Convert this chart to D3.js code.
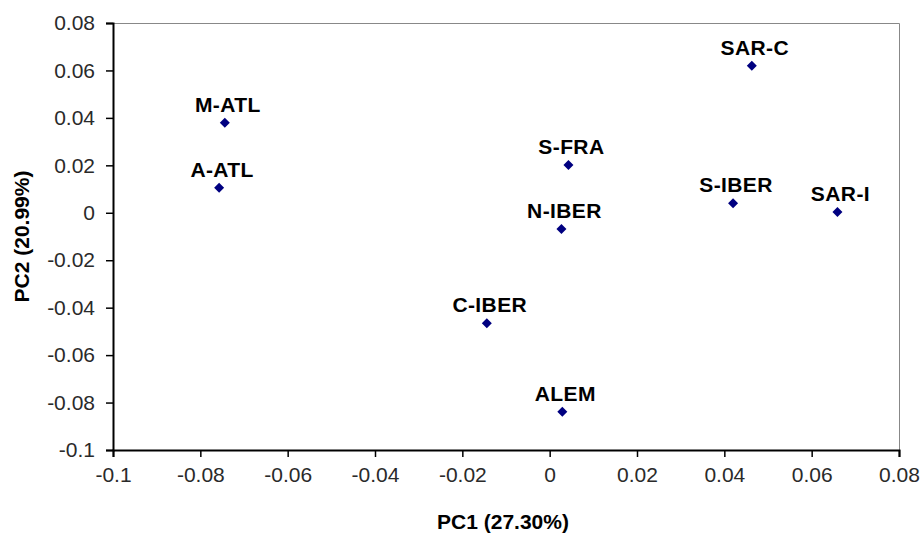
<!DOCTYPE html>
<html>
<head>
<meta charset="utf-8">
<script src="https://cdn.jsdelivr.net/npm/d3@7"></script>
<style>
  body { margin: 0; background: #fff; }
  text { font-family: "Liberation Sans", Arial, sans-serif; }
</style>
</head>
<body>
<div id="chart"></div>
<script>
const labels = ["M-ATL", "A-ATL", "S-FRA", "N-IBER", "SAR-C", "S-IBER", "SAR-I", "C-IBER", "ALEM"];
const pc1 = [-0.0744, -0.0757, 0.0043, 0.0027, 0.0463, 0.0420, 0.0659, -0.0144, 0.0029];
const pc2 = [0.0380, 0.0106, 0.0201, -0.0068, 0.0620, 0.0040, 0.0003, -0.0466, -0.0839];
const xTicks = [-0.1, -0.08, -0.06, -0.04, -0.02, 0, 0.02, 0.04, 0.06, 0.08];
const yTicks = [-0.1, -0.08, -0.06, -0.04, -0.02, 0, 0.02, 0.04, 0.06, 0.08];

const W = 924, H = 535;
let margin = { left: 113, right: 25, top: 23, bottom: 85 };
let width = W - margin.left - margin.right;
let height = H - margin.top - margin.bottom;

let svg = d3.select("#chart").append("svg")
  .attr("width", W).attr("height", H)
  .append("g")
  .attr("transform", `translate(${margin.left},${margin.top})`);

let x = d3.scaleLinear().domain([-0.1, 0.08]).range([0, width]);
let y = d3.scaleLinear().domain([-0.1, 0.08]).range([height, 0]);

// plot area border (gray top/right)
svg.append("path")
  .attr("d", `M0,0.5H${width + 0.5}V${height}`)
  .attr("fill", "none")
  .attr("stroke", "#888")
  .attr("stroke-width", 1);

let fmt = d => d === 0 ? "0" : String(+d.toFixed(2));

let xAxis = svg.append("g")
  .attr("transform", `translate(0,${height})`)
  .call(d3.axisBottom(x).tickValues(xTicks).tickFormat(fmt).tickSize(7).tickPadding(10));

let yAxis = svg.append("g")
  .call(d3.axisLeft(y).tickValues(yTicks).tickFormat(fmt).tickSize(7).tickPadding(11));

[xAxis, yAxis].forEach(a => {
  a.select(".domain").attr("stroke", "#000").attr("stroke-width", 2);
  a.selectAll(".tick line").attr("stroke", "#000").attr("stroke-width", 1.5);
  a.selectAll(".tick text")
    .attr("fill", "#2a2a2a")
    .style("font-size", "21px")
    .style("font-family", "'Liberation Sans', Arial, sans-serif");
});

// points
let pts = labels.map((l, i) => ({ label: l, px: pc1[i], py: pc2[i] }));

svg.selectAll(".pt")
  .data(pts)
  .enter().append("path")
  .attr("class", "pt")
  .attr("d", "M0,-5L5,0L0,5L-5,0Z")
  .attr("transform", d => `translate(${x(d.px)},${y(d.py)})`)
  .attr("fill", "#000080");

svg.selectAll(".lbl")
  .data(pts)
  .enter().append("text")
  .attr("class", "lbl")
  .attr("x", d => x(d.px) + 3)
  .attr("y", d => y(d.py) - 11)
  .attr("text-anchor", "middle")
  .style("font-size", "21px")
  .style("font-weight", "bold")
  .style("letter-spacing", "0.4px")
  .attr("fill", "#000")
  .text(d => d.label);

// axis titles
svg.append("text")
  .attr("transform", `translate(${width / 2 - 3}, ${height + 79})`)
  .attr("text-anchor", "middle")
  .style("font-size", "21px")
  .style("font-weight", "bold")
  .attr("fill", "#000")
  .text("PC1 (27.30%)");

svg.append("text")
  .attr("transform", `translate(${-84}, ${height / 2})rotate(-90)`)
  .attr("text-anchor", "middle")
  .style("font-size", "21px")
  .style("font-weight", "bold")
  .attr("fill", "#000")
  .text("PC2 (20.99%)");
</script>
</body>
</html>
